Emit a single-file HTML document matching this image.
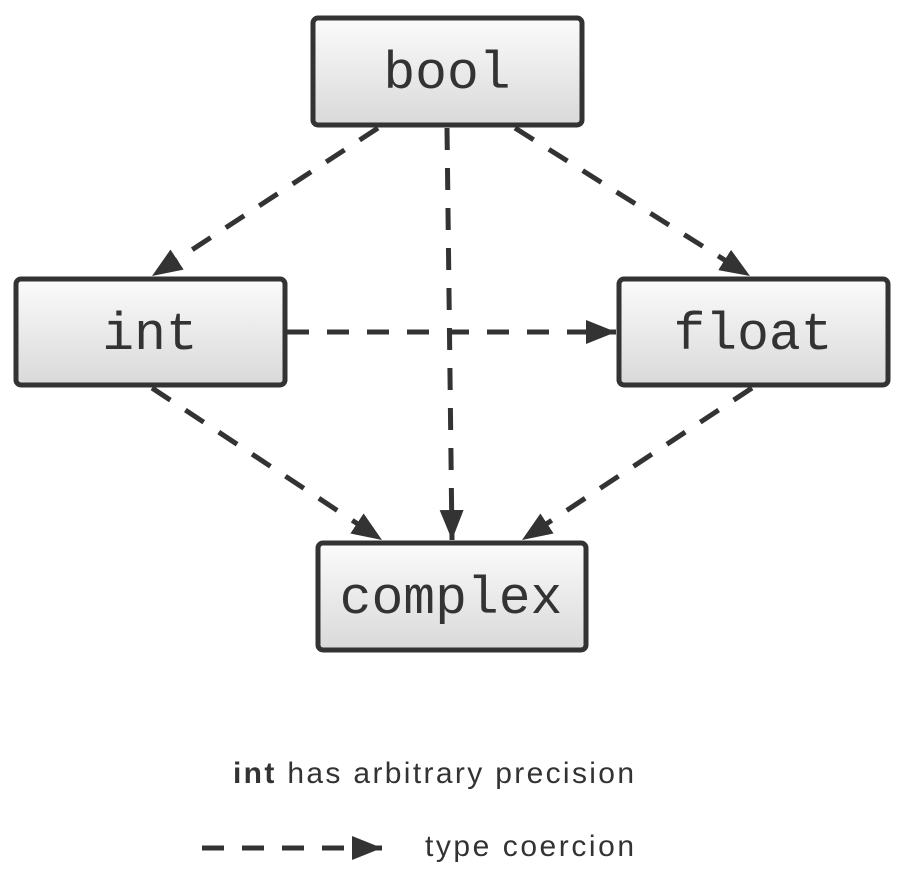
<!DOCTYPE html>
<html><head><style>
html,body{margin:0;padding:0;background:#fff;}
svg{display:block;}
</style></head><body>
<svg width="900" height="895" viewBox="0 0 900 895" xmlns="http://www.w3.org/2000/svg">
<defs>
<linearGradient id="g" x1="0" y1="0" x2="0" y2="1">
<stop offset="0" stop-color="#fbfbfb"/><stop offset="1" stop-color="#d9d9d9"/>
</linearGradient>
<marker id="a" markerUnits="userSpaceOnUse" markerWidth="32" markerHeight="26" refX="30" refY="12" orient="auto">
<path d="M0,0 L30,12 L0,24 Z" fill="#333"/>
</marker>
</defs>
<g stroke="#333" stroke-width="5" stroke-dasharray="22 18" fill="none" stroke-linecap="butt">
<line x1="378" y1="128" x2="152" y2="276" marker-end="url(#a)"/>
<line x1="447" y1="128" x2="452" y2="540" marker-end="url(#a)"/>
<line x1="515" y1="128" x2="750" y2="276" marker-end="url(#a)"/>
<line x1="287" y1="332" x2="616" y2="332" marker-end="url(#a)"/>
<line x1="152" y1="388" x2="382" y2="540" marker-end="url(#a)"/>
<line x1="752" y1="388" x2="522" y2="540" marker-end="url(#a)"/>
<line x1="202" y1="848" x2="382" y2="848" marker-end="url(#a)"/>
</g>
<g stroke="#333" stroke-width="5" fill="url(#g)">
<rect x="313" y="18" width="269" height="107" rx="5"/>
<rect x="16" y="279" width="269" height="106" rx="5"/>
<rect x="619" y="279" width="269" height="106" rx="5"/>
<rect x="318" y="543" width="268" height="107" rx="5"/>
</g>
<g font-family="Liberation Mono, monospace" font-size="53" fill="#333" text-anchor="middle">
<text x="447" y="88">bool</text>
<text x="150" y="349">int</text>
<text x="753" y="349">float</text>
<text x="451" y="613">complex</text>
</g>
<g font-family="Liberation Sans, sans-serif" font-size="30" fill="#333">
<text x="233" y="783" textLength="401" lengthAdjust="spacing"><tspan font-weight="bold">int</tspan> has arbitrary precision</text>
<text x="425" y="856" textLength="209" lengthAdjust="spacing">type coercion</text>
</g>
</svg>
</body></html>
